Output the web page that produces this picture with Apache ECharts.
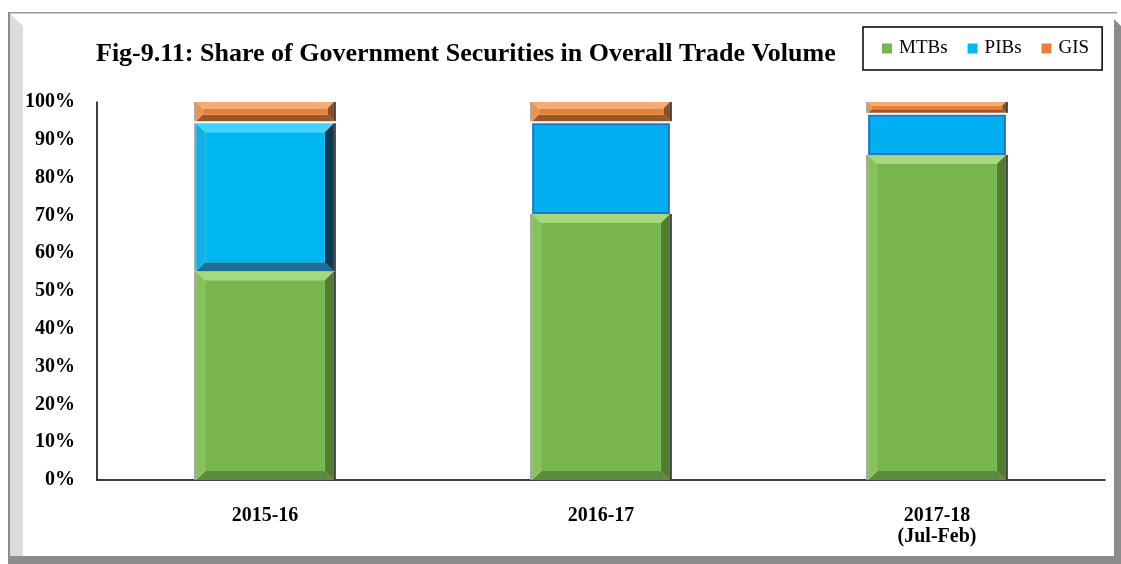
<!DOCTYPE html>
<html>
<head>
<meta charset="utf-8">
<title>Share of Government Securities in Overall Trade Volume</title>
<script src="https://cdn.jsdelivr.net/npm/echarts@6/dist/echarts.min.js"></script>
<style>
  html, body { margin: 0; padding: 0; background: #fff; }
  #chart { width: 1121px; height: 564px; }
</style>
</head>
<body>
<div id="chart"></div>
<script>
// Fiscal years on the category axis
const years = ['2015-16', '2016-17', '2017-18'];
const yearNotes = ['', '', '(Jul-Feb)'];

// Share of each instrument in the overall trade volume (%)
const mtbs = [55.2, 70.4, 86.0];
const pibs = [39.2, 24.0, 10.6];
const gis  = [5.6, 5.6, 3.4];

const seriesNames = ['MTBs', 'PIBs', 'GIS'];
const yTicks = [0, 10, 20, 30, 40, 50, 60, 70, 80, 90, 100];

// Facet colours of the bevelled bars
const palette = {
  MTBs: { main: '#77b54d', top: '#a6d97c', left: '#86c159', right: '#4e7d2f', bottom: '#5b8d3a' },
  PIBs: { main: '#00b7f1', top: '#43d3ff', left: '#14b0e4', right: '#0b3a55', bottom: '#1b6f9c' },
  GIS:  { main: '#e8803a', top: '#f8ab6e', left: '#ef8f4d', right: '#8e4c1f', bottom: '#9b5727' }
};
// PIBs bars drawn as plain boxes for these years
const flatPIBs = { '2016-17': true, '2017-18': true };

// Stack the three shares: [categoryIndex, lower, upper]
function stackRows(idx) {
  return years.map((y, i) => {
    const parts = [mtbs[i], pibs[i], gis[i]];
    let lo = 0;
    for (let k = 0; k < idx; k++) lo += parts[k];
    return [i, lo, lo + parts[idx]];
  });
}

function renderBar(name) {
  const c = palette[name];
  return function (params, api) {
    const ci = api.value(0);
    const top = api.coord([ci, api.value(2)]);
    const bot = api.coord([ci, api.value(1)]);
    const bw = api.size([1, 0])[0] * 0.41;
    const x0 = top[0] - bw / 2, x1 = top[0] + bw / 2;
    let y0 = top[1], y1 = bot[1];
    if (name === 'GIS') y1 -= 2;          // thin white gap under the top segment
    const h = y1 - y0;
    const children = [];
    if (name === 'PIBs' && flatPIBs[years[ci]]) {
      children.push({
        type: 'rect',
        shape: { x: x0 + 1, y: y0 + 1, width: bw - 2, height: h - 2 },
        style: { fill: '#00b0f0', stroke: '#2a72c2', lineWidth: 2 }
      });
      return { type: 'group', children };
    }
    const b = Math.min(9, h / 3, bw / 4);
    const poly = (pts, fill) => children.push({ type: 'polygon', shape: { points: pts }, style: { fill } });
    poly([[x0, y0], [x1, y0], [x1 - b, y0 + b], [x0 + b, y0 + b]], c.top);
    poly([[x0, y1], [x1, y1], [x1 - b, y1 - b], [x0 + b, y1 - b]], c.bottom);
    poly([[x0, y0], [x0 + b, y0 + b], [x0 + b, y1 - b], [x0, y1]], c.left);
    poly([[x1, y0], [x1 - b, y0 + b], [x1 - b, y1 - b], [x1, y1]], c.right);
    children.push({
      type: 'rect',
      shape: { x: x0 + b, y: y0 + b, width: bw - 2 * b, height: h - 2 * b },
      style: { fill: c.main }
    });
    // shaded side edges
    children.push({ type: 'rect', shape: { x: x0 - 2, y: y0, width: 2, height: h }, style: { fill: '#a3a3a3' } });
    children.push({ type: 'rect', shape: { x: x1, y: y0, width: 2, height: h }, style: { fill: '#404040' } });
    return { type: 'group', children };
  };
}

const serif = '"Liberation Serif", "Times New Roman", serif';
const frameGrey = '#8c8c8c';

const chart = echarts.init(document.getElementById('chart'), null, { renderer: 'canvas' });

chart.setOption({
  animation: false,
  backgroundColor: '#fff',
  title: {
    text: 'Fig-9.11: Share of Government Securities in Overall Trade Volume',
    left: 91,
    top: 36,
    textStyle: { fontFamily: serif, fontWeight: 'bold', fontSize: 26, color: '#000' }
  },
  legend: {
    data: seriesNames,
    left: 863,
    top: 27,
    padding: [12, 13, 12, 19],
    itemGap: 20,
    itemWidth: 10,
    itemHeight: 10,
    icon: 'rect',
    borderColor: '#000',
    borderWidth: 1.5,
    textStyle: { fontFamily: serif, fontSize: 19, color: '#000', padding: [0, 0, 0, 2] }
  },
  grid: { left: 97, right: 16, top: 102, bottom: 84, containLabel: false },
  xAxis: {
    type: 'category',
    data: years,
    axisLine: { lineStyle: { color: '#000', width: 1.5 } },
    axisTick: { show: false },
    axisLabel: {
      margin: 25,
      interval: 0,
      formatter: (v, i) => yearNotes[i] ? '{y|' + v + '}\n{n|' + yearNotes[i] + '}' : '{y|' + v + '}',
      rich: {
        y: { fontFamily: serif, fontWeight: 'bold', fontSize: 20, color: '#000', lineHeight: 21 },
        n: { fontFamily: serif, fontWeight: 'bold', fontSize: 20, color: '#000', lineHeight: 21 }
      }
    }
  },
  yAxis: {
    type: 'value',
    min: yTicks[0],
    max: yTicks[yTicks.length - 1],
    interval: 10,
    axisLine: { show: true, lineStyle: { color: '#000', width: 1.5 } },
    axisTick: { show: false },
    splitLine: { show: false },
    axisLabel: {
      margin: 22,
      formatter: '{value}%',
      fontFamily: serif,
      fontWeight: 'bold',
      fontSize: 20,
      color: '#000'
    }
  },
  series: seriesNames.map((name, idx) => ({
    name,
    type: 'custom',
    itemStyle: { color: palette[name].main },
    encode: { x: 0, y: [1, 2] },
    data: stackRows(idx),
    renderItem: renderBar(name)
  })),
  graphic: [
    // outer frame with its shaded edges
    { type: 'rect', z: 100, shape: { x: 8, y: 12, width: 1109, height: 1.5 }, style: { fill: '#999' } },
    { type: 'rect', z: 100, shape: { x: 8, y: 12, width: 2, height: 546 }, style: { fill: frameGrey } },
    { type: 'polygon', z: 99, shape: { points: [[10, 13.5], [23, 26], [23, 556], [10, 556]] }, style: { fill: '#dcdcdc' } },
    { type: 'polygon', z: 100, shape: { points: [[1114, 19], [1121, 26], [1121, 564], [1114, 564]] }, style: { fill: frameGrey } },
    { type: 'rect', z: 100, shape: { x: 8, y: 556, width: 1113, height: 8 }, style: { fill: frameGrey } }
  ]
});
</script>
</body>
</html>
